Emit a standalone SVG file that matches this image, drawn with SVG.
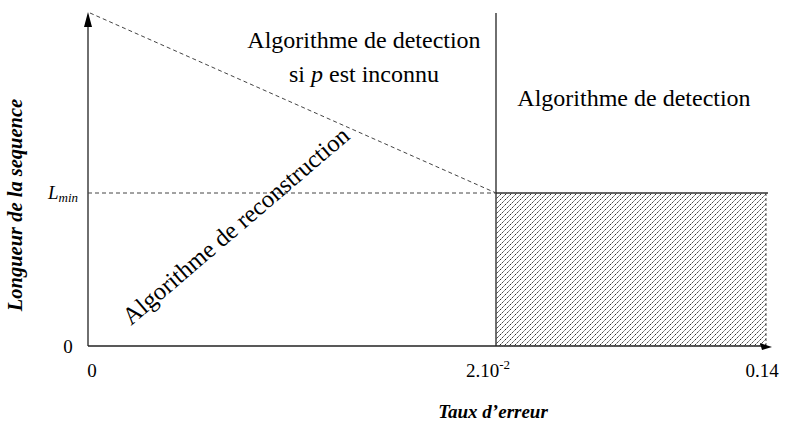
<svg xmlns="http://www.w3.org/2000/svg" width="785" height="430" viewBox="0 0 785 430">
<style>
text{font-family:"Liberation Serif","Times New Roman",serif;fill:#000}
.big{font-size:24px}
.tick{font-size:19px}
.bi{font-weight:bold;font-style:italic}
.ax{stroke:#222;stroke-width:1.3;fill:none}
.dash{stroke:#444;stroke-width:1;stroke-dasharray:4 3;fill:none}
</style>
<defs>
<pattern id="hatch" patternUnits="userSpaceOnUse" width="5" height="5">
<path d="M0,5 L5,0 M-1,1 L1,-1 M4,6 L6,4" stroke="#111" stroke-width="0.9" stroke-dasharray="1.6 0.8"/>
</pattern>
</defs>
<rect width="785" height="430" fill="#fff"/>
<g id="region-hatched">
<rect x="496" y="193" width="270" height="153" fill="url(#hatch)"/>
<line x1="766" y1="193" x2="766" y2="346" stroke="#555" stroke-width="1" stroke-dasharray="3 2"/>
<line x1="496" y1="193" x2="768" y2="193" stroke="#333" stroke-width="1.3"/>
</g>
<g id="connectors">
<line class="ax" x1="88" y1="346" x2="88" y2="24"/>
<polygon points="88,12 84,27 92,27" fill="#000"/>
<line class="ax" x1="88" y1="346" x2="762" y2="346"/>
<polygon points="772,347 760,343 762,350" fill="#000"/>
<line class="ax" x1="496" y1="13" x2="496" y2="346"/>
<line class="dash" x1="90" y1="13" x2="496" y2="193"/>
<line class="dash" x1="88" y1="193" x2="496" y2="193" stroke-dasharray="6 4"/>
</g>
<g id="labels">
<text class="big" x="364" y="48" text-anchor="middle">Algorithme de detection</text>
<text class="big" x="364" y="82" text-anchor="middle">si <tspan font-style="italic">p</tspan> est inconnu</text>
<text class="big" x="634" y="106" text-anchor="middle">Algorithme de detection</text>
<text class="big" font-size="24.6" style="font-size:24.6px" transform="translate(131,326) rotate(-40.5)">Algorithme de reconstruction</text>
<text x="48" y="199" font-size="19" font-style="italic">L<tspan font-size="13" dy="3">min</tspan></text>
<text class="tick" x="68" y="353" text-anchor="middle">0</text>
<text class="tick" x="92" y="377" text-anchor="middle">0</text>
<text class="tick" x="466" y="377">2.10<tspan font-size="13" dy="-8">-2</tspan></text>
<text class="tick" x="762" y="377" text-anchor="middle">0.14</text>
<text class="bi" x="493" y="418" font-size="19" text-anchor="middle">Taux d’erreur</text>
<text class="bi" font-size="20.5" text-anchor="middle" transform="translate(22,205) rotate(-90)">Longueur de la sequence</text>
</g>
</svg>
